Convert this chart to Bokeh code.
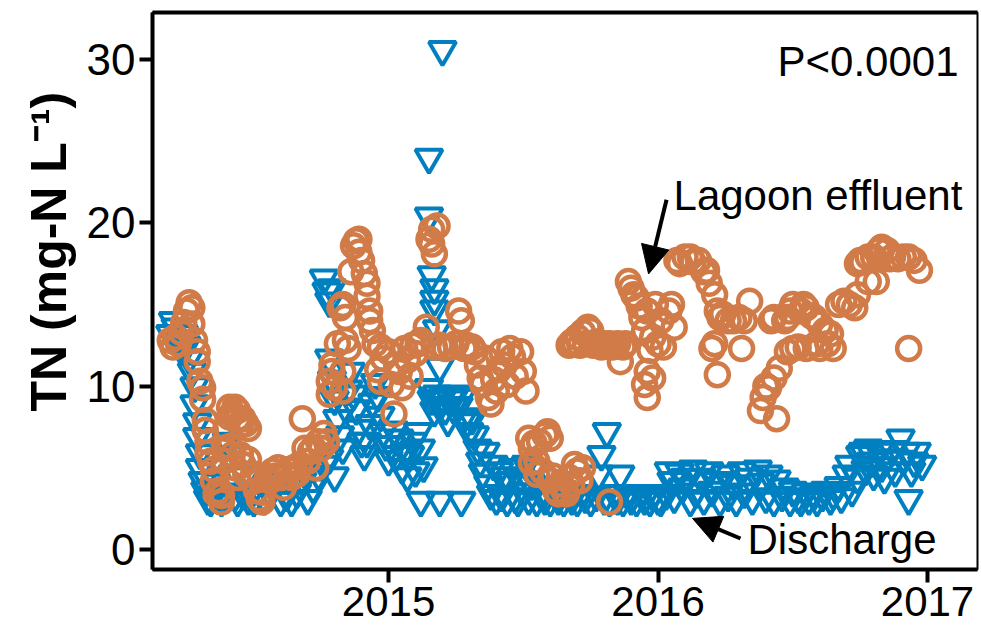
import math
from bokeh.plotting import figure
from bokeh.models import (Range1d, FixedTicker, LinearAxis, Label, Arrow,
                          NormalHead, ColumnDataSource, Title)
from bokeh.embed import file_html
from bokeh.resources import INLINE

# ---------------- data (time in decimal years, TN in mg-N/L) ----------------
lagoon_t = [
    # 2014 spring
    2014.19, 2014.20, 2014.21, 2014.22, 2014.23, 2014.24, 2014.25, 2014.26, 2014.27, 2014.27,
    2014.28, 2014.29, 2014.29, 2014.30, 2014.31, 2014.31, 2014.32, 2014.32, 2014.33, 2014.33,
    2014.34, 2014.35, 2014.35, 2014.36, 2014.37, 2014.38, 2014.38, 2014.39, 2014.39,
    # 2014 summer
    2014.40, 2014.41, 2014.41, 2014.42, 2014.43, 2014.44, 2014.44, 2014.45, 2014.46, 2014.47,
    2014.48, 2014.41, 2014.42, 2014.43, 2014.44, 2014.45, 2014.46, 2014.47, 2014.48, 2014.49,
    2014.50, 2014.51, 2014.52, 2014.53, 2014.53,
    2014.55, 2014.56, 2014.57, 2014.58, 2014.59, 2014.60, 2014.61, 2014.62, 2014.63, 2014.64,
    2014.65, 2014.66, 2014.67, 2014.68, 2014.69, 2014.70, 2014.71, 2014.72, 2014.73, 2014.74,
    2014.75, 2014.76, 2014.77,
    # 2014 autumn
    2014.78, 2014.78, 2014.79, 2014.79, 2014.80, 2014.81, 2014.82, 2014.83, 2014.83, 2014.83,
    2014.84, 2014.84, 2014.85, 2014.86, 2014.87, 2014.88, 2014.89, 2014.89, 2014.90, 2014.91,
    2014.92, 2014.92, 2014.93, 2014.93, 2014.94, 2014.95, 2014.96, 2014.97, 2014.97, 2014.98,
    # 2015
    2015.00, 2015.01, 2015.02, 2015.03, 2015.04, 2015.05, 2015.06, 2015.07, 2015.08, 2015.09,
    2015.10, 2015.11, 2015.12, 2015.14, 2015.15, 2015.16, 2015.16, 2015.17, 2015.18, 2015.17,
    2015.19, 2015.21, 2015.23, 2015.25, 2015.26, 2015.27, 2015.28, 2015.29, 2015.31, 2015.32,
    2015.33, 2015.34, 2015.35, 2015.36, 2015.37, 2015.38, 2015.39, 2015.40, 2015.41, 2015.42,
    2015.43, 2015.44, 2015.45, 2015.46, 2015.47, 2015.49, 2015.50, 2015.51,
    2015.52, 2015.53, 2015.53, 2015.54, 2015.55, 2015.55, 2015.56, 2015.57, 2015.58, 2015.59,
    2015.60, 2015.60, 2015.61, 2015.62, 2015.63, 2015.64, 2015.65, 2015.66, 2015.67, 2015.68,
    2015.69, 2015.70, 2015.71, 2015.72, 2015.82,
    2015.67, 2015.68, 2015.69, 2015.70, 2015.71, 2015.72, 2015.73, 2015.74, 2015.75, 2015.76,
    2015.77, 2015.78, 2015.79, 2015.80, 2015.81, 2015.82, 2015.83, 2015.84, 2015.85, 2015.86,
    2015.87, 2015.88,
    2015.89, 2015.90, 2015.91, 2015.92, 2015.93, 2015.94, 2015.95, 2015.95, 2015.96, 2015.96,
    2015.96, 2015.97, 2015.98, 2015.98, 2015.99, 2016.00, 2016.01, 2016.02, 2016.04, 2016.05,
    2016.06,
    # 2016
    2016.07, 2016.08, 2016.10, 2016.12, 2016.13, 2016.15, 2016.17, 2016.18, 2016.19, 2016.20,
    2016.21, 2016.21, 2016.22, 2016.22, 2016.23, 2016.24, 2016.26, 2016.28, 2016.30, 2016.31,
    2016.32, 2016.34,
    2016.38, 2016.39, 2016.40, 2016.41, 2016.42, 2016.43, 2016.43, 2016.44, 2016.45, 2016.47,
    2016.48, 2016.48, 2016.49, 2016.50, 2016.50, 2016.52, 2016.53, 2016.54, 2016.55, 2016.55,
    2016.57, 2016.58, 2016.59, 2016.60, 2016.60, 2016.62, 2016.63, 2016.64, 2016.65,
    2016.67, 2016.69, 2016.71, 2016.73, 2016.74, 2016.74, 2016.75, 2016.76, 2016.78, 2016.78,
    2016.80, 2016.81, 2016.82, 2016.83, 2016.85, 2016.86, 2016.87, 2016.89, 2016.91, 2016.93,
    2016.93, 2016.95, 2016.97,
]
lagoon_v = [
    12.8, 12.4, 13.0, 12.6, 13.3, 13.9, 14.6, 15.1, 14.8, 13.8,
    12.8, 12.1, 11.5, 10.3, 9.9, 9.2, 7.9, 7.3, 6.6, 5.9,
    5.4, 4.9, 4.2, 3.4, 3.6, 2.9, 3.3, 5.4, 6.2,
    7.4, 8.1, 8.7, 8.3, 8.7, 8.5, 8.0, 7.6, 8.0, 7.7,
    7.4, 6.3, 5.8, 5.0, 4.4, 5.8, 5.2, 4.6, 5.5, 4.2,
    4.6, 3.6, 3.1, 2.9, 3.5,
    4.4, 4.2, 4.8, 4.5, 5.0, 4.4, 3.8, 4.5, 4.9, 4.4,
    5.0, 4.6, 5.2, 8.0, 6.2, 5.4, 6.0, 6.2, 5.0, 6.6,
    6.2, 7.1, 6.6,
    9.5, 10.3, 10.9, 11.3, 9.9, 12.6, 14.8, 15.0, 10.9, 9.7,
    14.2, 12.8, 12.3, 17.0, 18.6, 18.9, 19.0, 18.2, 17.7, 16.9,
    16.3, 15.5, 14.6, 14.0, 13.4, 12.6, 11.0, 10.3, 12.4, 11.7,
    12.1, 10.1, 8.3, 11.3, 10.9, 9.9, 12.3, 11.6, 10.6, 12.5,
    12.0, 12.6, 12.8, 13.6, 19.0, 19.6, 18.7, 18.1, 19.8, 12.4,
    12.5, 12.3, 12.4, 12.6, 14.6, 14.0, 12.3, 12.5, 12.4, 12.1,
    11.3, 10.5, 10.1, 11.7, 9.3, 8.9, 10.4, 9.7, 11.0, 12.1,
    11.3, 10.1, 12.3, 11.8, 10.6, 12.1, 10.9, 9.7,
    6.8, 6.2, 5.3, 6.5, 5.4, 4.6, 6.6, 4.8, 7.0, 7.2,
    6.8, 4.2, 4.5, 3.6, 3.4, 4.0, 3.6, 3.4, 4.4, 4.0,
    5.2, 4.8, 4.2, 5.0, 2.9,
    12.5, 12.7, 12.6, 13.0, 12.5, 13.3, 12.6, 13.6, 13.4, 12.5,
    12.7, 12.6, 12.4, 12.6, 12.5, 12.6, 12.4, 12.5, 12.6, 11.5,
    12.4, 12.6,
    16.4, 16.0, 15.6, 15.4, 14.9, 14.2, 13.4, 10.1, 14.6, 10.9,
    9.3, 12.2, 10.5, 13.0, 15.0, 12.6, 14.0, 12.4, 14.6, 15.0,
    13.6,
    17.7, 17.5, 17.9, 17.9, 17.6, 17.7, 17.0, 17.1, 16.3, 12.3,
    15.6, 12.6, 14.6, 10.7, 14.2, 14.4, 14.0, 14.0, 14.2, 12.3,
    14.0, 15.2,
    8.5, 9.3, 10.0, 9.9, 14.0, 10.5, 14.2, 8.0, 11.1, 14.0,
    12.1, 14.2, 14.6, 15.0, 12.3, 12.4, 14.6, 15.0, 14.8, 12.3,
    14.3, 14.2, 12.6, 13.8, 12.3, 13.4, 12.6, 13.2, 12.3,
    15.0, 15.2, 15.0, 14.8, 15.6, 17.5, 17.7, 17.6, 17.9, 16.4,
    17.9, 16.4, 18.3, 18.5, 18.3, 17.8, 17.9, 17.8, 17.9, 17.9,
    12.3, 17.7, 17.1,
]

discharge_t = [
    2014.19, 2014.20, 2014.21, 2014.22, 2014.23, 2014.24, 2014.25, 2014.26, 2014.27, 2014.28,
    2014.28, 2014.29, 2014.29, 2014.30, 2014.30, 2014.31, 2014.32, 2014.33, 2014.34, 2014.35,
    2014.36, 2014.37, 2014.38, 2014.39, 2014.40, 2014.41, 2014.42, 2014.43, 2014.44, 2014.46,
    2014.47, 2014.48, 2014.50, 2014.52, 2014.54, 2014.56, 2014.58, 2014.60, 2014.62, 2014.64,
    2014.66, 2014.68, 2014.70, 2014.72, 2014.74, 2014.76,
    2014.76, 2014.77, 2014.78, 2014.79, 2014.78, 2014.79, 2014.80, 2014.81, 2014.82, 2014.83,
    2014.84, 2014.85, 2014.86, 2014.87, 2014.88, 2014.89, 2014.90, 2014.91, 2014.92, 2014.93,
    2014.94, 2014.95, 2014.96, 2014.97, 2014.98, 2014.99, 2014.80, 2014.78,
    2015.00, 2015.01, 2015.02, 2015.03, 2015.04, 2015.05, 2015.06, 2015.07, 2015.08, 2015.09,
    2015.10, 2015.11, 2015.12, 2015.13, 2015.12, 2015.15, 2015.15, 2015.20, 2015.16, 2015.17,
    2015.17, 2015.17, 2015.18, 2015.19, 2015.15, 2015.16, 2015.17, 2015.18, 2015.19, 2015.20,
    2015.21, 2015.22, 2015.23, 2015.19, 2015.27, 2015.24, 2015.25, 2015.26, 2015.27, 2015.28,
    2015.29, 2015.30, 2015.31, 2015.32, 2015.33, 2015.34, 2015.35, 2015.36, 2015.37, 2015.39,
    2015.41, 2015.43, 2015.46, 2015.49, 2015.51, 2015.54,
    2015.38, 2015.40, 2015.42, 2015.44, 2015.45, 2015.47, 2015.48, 2015.50, 2015.52, 2015.53,
    2015.55, 2015.57, 2015.58, 2015.60, 2015.62, 2015.63, 2015.65, 2015.67, 2015.68, 2015.70,
    2015.72, 2015.73, 2015.75, 2015.77, 2015.78, 2015.79, 2015.81, 2015.80, 2015.82, 2015.84,
    2015.85, 2015.86, 2015.87, 2015.89, 2015.90, 2015.92, 2015.94, 2015.95, 2015.97, 2015.98,
    2016.00, 2016.01, 2016.03, 2016.04, 2016.05, 2016.06, 2016.08, 2016.09, 2016.10, 2016.12,
    2016.13, 2016.14, 2016.16, 2016.17, 2016.19, 2016.20, 2016.22, 2016.23, 2016.25, 2016.26,
    2016.28, 2016.29, 2016.31, 2016.32, 2016.34, 2016.35, 2016.37, 2016.38, 2016.40, 2016.41,
    2016.43, 2016.44, 2016.46, 2016.47, 2016.49, 2016.50, 2016.52, 2016.53, 2016.55, 2016.56,
    2016.58, 2016.59, 2016.61, 2016.62, 2016.64, 2016.65, 2016.67, 2016.68, 2016.70, 2016.71,
    2016.72, 2016.74, 2016.75, 2016.76, 2016.77, 2016.78, 2016.79, 2016.80, 2016.82, 2016.83,
    2016.84, 2016.85, 2016.87, 2016.88, 2016.90, 2016.91, 2016.92, 2016.93, 2016.94, 2016.95,
    2016.96, 2016.98,
]
discharge_v = [
    13.2, 14.0, 13.6, 12.9, 12.3, 13.2, 12.5, 11.7, 10.9, 10.0,
    8.9, 7.8, 6.9, 5.9, 5.0, 4.2, 3.6, 3.1, 3.0, 3.4,
    4.1, 3.2, 3.0, 3.5, 6.6, 5.8, 4.6, 3.3, 3.0, 3.4,
    4.5, 3.1, 3.0, 3.6, 3.1, 3.4, 4.2, 3.0, 3.3, 3.0,
    3.5, 4.2, 3.1, 3.8, 4.6, 5.2,
    16.6, 15.8, 15.2, 16.0, 11.7, 10.4, 9.2, 8.0, 7.0, 6.2,
    8.7, 9.8, 10.9, 9.5, 8.6, 7.4, 6.6, 5.8, 6.6, 7.7,
    9.0, 10.2, 9.4, 8.2, 7.2, 6.4, 4.5, 5.6,
    5.5, 6.4, 7.3, 5.8, 6.8, 5.0, 6.0, 4.5, 5.8, 6.6,
    4.8, 7.2, 6.2, 5.1, 3.0, 24.0, 20.4, 30.6, 16.8, 16.0,
    15.3, 14.7, 13.5, 11.2, 9.9, 9.2, 8.5, 9.5, 8.8, 9.3,
    8.6, 7.9, 9.2, 3.0, 3.0, 8.7, 9.5, 8.8, 9.3, 8.1,
    7.8, 7.2, 8.0, 7.0, 6.2, 5.4, 4.7, 6.0, 4.0, 5.2,
    4.8, 4.5, 5.0, 4.4, 5.2, 4.8,
    3.4, 3.1, 3.3, 3.0, 4.2, 3.2, 3.0, 3.5, 3.1, 4.0,
    3.0, 3.3, 3.1, 3.0, 3.4, 3.1, 3.0, 3.3, 3.1, 3.0,
    3.4, 3.2, 3.0, 3.3, 4.6, 5.8, 7.2, 3.1, 3.0, 3.4,
    3.1, 4.6, 3.0, 3.3, 3.1, 3.0, 3.4, 3.1, 3.0, 3.3,
    3.1, 3.0, 3.4, 4.8, 4.2, 3.2, 4.7, 3.8, 4.4, 3.0,
    4.9, 3.5, 4.4, 3.1, 4.8, 3.6, 4.2, 3.0, 4.6, 3.3,
    4.0, 3.0, 4.8, 3.5, 4.4, 3.1, 4.9, 4.1, 3.2, 4.6,
    3.0, 4.3, 3.3, 3.8, 3.0, 3.6, 3.2, 3.0, 3.5, 3.1,
    3.4, 3.0, 3.3, 3.6, 3.1, 3.4, 3.9, 3.2, 4.6, 5.2,
    3.6, 4.4, 5.8, 6.0, 4.9, 6.2, 5.4, 4.6, 6.0, 5.1,
    4.4, 5.6, 6.1, 4.8, 6.8, 5.5, 6.0, 3.1, 4.8, 5.4,
    6.0, 5.2,
]

x_ticks = [2015, 2016, 2017]
y_ticks = [0, 10, 20, 30]

ORANGE = "#D17B48"
BLUE = "#0080C1"
FONT = "Liberation Sans"

# ---------------- figure ----------------
p = figure(width=979, height=627, output_backend="svg", toolbar_location=None,
           x_range=Range1d(2014.124, 2017.1855), y_range=Range1d(-1.23, 32.88),
           min_border_left=152, min_border_right=2, min_border_top=12,
           min_border_bottom=58)
p.background_fill_color = "white"
p.border_fill_color = "white"
p.outline_line_color = "black"
p.outline_line_width = 2
p.xgrid.visible = False
p.ygrid.visible = False

for ax in (p.xaxis[0], p.yaxis[0]):
    ax.axis_line_width = 4
    ax.axis_line_color = "black"
    ax.major_tick_line_width = 4
    ax.major_tick_in = 0
    ax.major_tick_out = 13
    ax.minor_tick_line_color = None
    ax.major_label_text_font = FONT
    ax.major_label_text_color = "black"

p.xaxis[0].major_label_text_font_size = "42px"
p.yaxis[0].major_label_text_font_size = "44px"
p.xaxis[0].ticker = FixedTicker(ticks=x_ticks)
p.yaxis[0].ticker = FixedTicker(ticks=y_ticks)
p.xaxis[0].major_label_standoff = 4
p.yaxis[0].major_label_standoff = 4

top_axis = LinearAxis(ticker=FixedTicker(ticks=[]), axis_line_width=4,
                      major_tick_line_color=None, minor_tick_line_color=None,
                      major_label_text_font_size="0px")
p.add_layout(top_axis, "above")

# y axis title (rotated, outside the axis)
ytitle = Title(text="TN (mg-N L\u207b\u00b9)", align="left", offset=158,
               vertical_align="top",
               text_font=FONT, text_font_style="bold", text_font_size="50px",
               text_color="black", standoff=10)
p.add_layout(ytitle, "left")

src_d = ColumnDataSource(dict(t=discharge_t, v=discharge_v))
src_l = ColumnDataSource(dict(t=lagoon_t, v=lagoon_v))

p.scatter("t", "v", source=src_d, marker="inverted_triangle", size=27,
          fill_color=None, line_color=BLUE, line_width=4)
p.scatter("t", "v", source=src_l, marker="circle", size=23,
          fill_color=None, line_color=ORANGE, line_width=4.5)

# annotations
p.add_layout(Label(x=2017.115, y=29.88, text="P<0.0001", text_align="right",
                   text_baseline="alphabetic", text_font=FONT,
                   text_font_size="42px", text_color="black"))
p.add_layout(Label(x=2016.0575, y=21.66, text="Lagoon effluent", text_align="left",
                   text_baseline="alphabetic", text_font=FONT,
                   text_font_size="42px", text_color="black"))
p.add_layout(Label(x=2016.332, y=0.61, text="Discharge", text_align="left",
                   text_baseline="alphabetic", text_font=FONT,
                   text_font_size="42px", text_color="black"))

p.add_layout(Arrow(end=NormalHead(size=28, fill_color="black", line_color="black",
                                  line_width=1),
                   x_start=2016.0315, y_start=21.41, x_end=2015.9648, y_end=16.87,
                   line_width=4, line_color="black"))
p.add_layout(Arrow(end=NormalHead(size=28, fill_color="black", line_color="black",
                                  line_width=1),
                   x_start=2016.306, y_start=0.67, x_end=2016.128, y_end=1.90,
                   line_width=4, line_color="black"))

open("out.html", "w").write(file_html(p, INLINE))
